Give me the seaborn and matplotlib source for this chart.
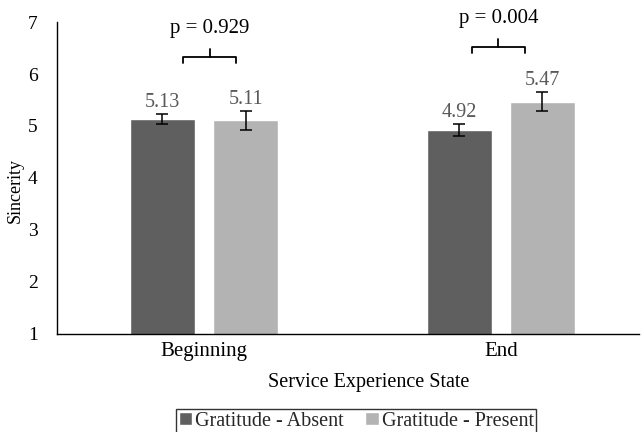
import matplotlib
matplotlib.use("Agg")
import matplotlib.pyplot as plt
import seaborn as sns
import pandas as pd
import numpy as np

states = ["Beginning", "End"]
groups = ["Gratitude - Absent", "Gratitude - Present"]
means = {"Gratitude - Absent": [5.13, 4.92], "Gratitude - Present": [5.11, 5.47]}
errors = {"Gratitude - Absent": [0.10, 0.11], "Gratitude - Present": [0.18, 0.19]}
p_values = ["p = 0.929", "p = 0.004"]

sns.set_theme(style="white")
plt.rcParams["font.family"] = ["Liberation Serif", "DejaVu Serif"]

df = pd.DataFrame([
    {"state": s, "group": g, "value": means[g][i], "err": errors[g][i]}
    for g in groups for i, s in enumerate(states)
])

fig = plt.figure(figsize=(6.42, 4.32), dpi=100)
ax = fig.add_axes([0.089, 0.227, 0.906, 0.722])

palette = {"Gratitude - Absent": "#5f5f5f", "Gratitude - Present": "#b3b3b3"}
sns.barplot(data=df, x="state", y="value", hue="group", hue_order=groups,
            palette=palette, width=0.562, gap=0.22, errorbar=None, ax=ax,
            saturation=1)

# error bars and value labels, one per bar
bars = [p for p in ax.patches if p.get_height() > 0]
for g_idx, g in enumerate(groups):
    for s_idx, s in enumerate(states):
        bar = bars[g_idx * len(states) + s_idx]
        cx = bar.get_x() + bar.get_width() / 2
        v = means[g][s_idx]
        e = errors[g][s_idx]
        ax.errorbar(cx, v, yerr=e, fmt="none", ecolor="black", elinewidth=1.1,
                    capsize=4, capthick=1.1)
        ax.text(cx, v + e + 0.04, f"{v:.2f}", ha="center", va="bottom",
                fontsize=14.5, color="#595959")

# significance brackets
brackets = [(-0.071, 0.108, 6.33), (0.902, 1.081, 6.52)]
for (x0, x1, yb), ptxt in zip(brackets, p_values):
    xm = (x0 + x1) / 2
    ax.plot([x0, x0, x1, x1], [yb - 0.12, yb, yb, yb - 0.12], color="black",
            lw=1.3, clip_on=False)
    ax.plot([xm, xm], [yb, yb + 0.16], color="black", lw=1.3, clip_on=False)
    ax.text(xm, yb + 0.55, ptxt, ha="center", va="center", fontsize=15,
            color="black", clip_on=False)

ax.set_ylim(1, 7)
ax.set_xlim(-0.495, 1.465)
ax.set_yticks(range(1, 8))
ax.tick_params(axis="both", length=0, colors="black")
ax.tick_params(axis="y", pad=14, labelsize=14)
ax.tick_params(axis="x", pad=6, labelsize=15)
ax.set_ylabel("Sincerity", fontsize=13, color="black", va="center")
ax.yaxis.set_label_coords(-0.072, 0.46)
ax.set_xlabel("Service Experience State", fontsize=14.5, color="black", va="center")
ax.xaxis.set_label_coords(0.536, -0.157)
for side in ["top", "right"]:
    ax.spines[side].set_visible(False)
for side in ["left", "bottom"]:
    ax.spines[side].set_color("black")
    ax.spines[side].set_linewidth(1.0)

handles, labels = ax.get_legend_handles_labels()
ax.legend(handles, labels, loc="center", bbox_to_anchor=(0.514, -0.28),
          ncol=2, frameon=True, fancybox=False, fontsize=14.5,
          edgecolor="black", handlelength=0.65, handleheight=0.65,
          handletextpad=0.15, columnspacing=1.1, borderpad=0.12,
          borderaxespad=0)
ax.get_legend().get_frame().set_linewidth(1.0)

fig.savefig("out.png", dpi=100)
